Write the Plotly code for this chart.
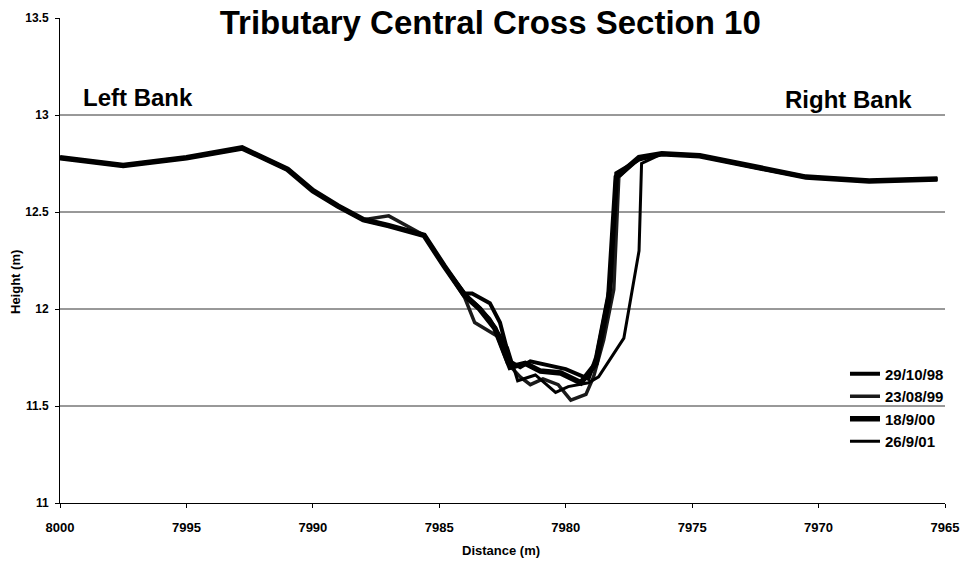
import plotly.graph_objects as go

# ---- data ----
left_x = [8000, 7997.5, 7995, 7992.8, 7991, 7990, 7989, 7988, 7987, 7985.6, 7984.8]
left_y = [12.78, 12.74, 12.78, 12.83, 12.72, 12.61, 12.53, 12.46, 12.43, 12.38, 12.22]
left_y_bump = [12.78, 12.74, 12.78, 12.83, 12.72, 12.61, 12.53, 12.46, 12.48, 12.38, 12.22]

right_x = [7974.7, 7972.5, 7970.5, 7968, 7965.3]
right_y = [12.79, 12.73, 12.68, 12.66, 12.67]

s98_x = [7984.0, 7983.7, 7983.0, 7982.6, 7982.2, 7981.8, 7981.4, 7980.0, 7979.1, 7978.8, 7978.4, 7978.2, 7978.0, 7977.1, 7976.2]
s98_y = [12.08, 12.08, 12.03, 11.93, 11.73, 11.70, 11.73, 11.69, 11.64, 11.75, 12.00, 12.15, 12.70, 12.77, 12.80]

s99_x = [7984.0, 7983.6, 7982.7, 7982.3, 7981.8, 7981.4, 7980.9, 7980.3, 7979.8, 7979.2, 7978.9, 7978.5, 7978.1, 7977.9, 7977.1, 7976.2]
s99_y = [12.06, 11.93, 11.86, 11.72, 11.65, 11.61, 11.64, 11.61, 11.53, 11.56, 11.65, 11.84, 12.10, 12.68, 12.78, 12.80]

s00_x = [7984.0, 7983.4, 7982.8, 7982.2, 7981.6, 7981.0, 7980.2, 7979.4, 7978.8, 7978.3, 7978.0, 7977.1, 7976.2]
s00_y = [12.07, 12.00, 11.90, 11.70, 11.72, 11.68, 11.67, 11.62, 11.72, 12.05, 12.68, 12.78, 12.80]

s01_x = [7984.0, 7983.5, 7983.0, 7982.3, 7981.9, 7981.2, 7980.4, 7979.9, 7979.1, 7978.7, 7977.7, 7977.1, 7977.0, 7976.2]
s01_y = [12.08, 12.02, 11.95, 11.80, 11.63, 11.66, 11.57, 11.60, 11.62, 11.65, 11.85, 12.30, 12.75, 12.80]

series_names = ["29/10/98", "23/08/99", "18/9/00", "26/9/01"]
series_widths = [4, 3.5, 5.5, 3]
series_colors = ["#000000", "#1a1a1a", "#000000", "#000000"]

grid_vals = [11.5, 12, 12.5, 13]
y_ticks = [11, 11.5, 12, 12.5, 13, 13.5]
y_tick_text = ["11", "11.5", "12", "12.5", "13", "13.5"]
x_ticks = [8000, 7995, 7990, 7985, 7980, 7975, 7970, 7965]

FONT = "Liberation Sans, Arial, sans-serif"
W, H = 967, 569
ML, MR, MT, MB = 60, 22, 18, 66
plot_w = W - ML - MR
plot_h = H - MT - MB

fig = go.Figure()

mids = [(s98_x, s98_y, left_y), (s99_x, s99_y, left_y_bump), (s00_x, s00_y, left_y), (s01_x, s01_y, left_y)]
for (mx, my, ly), name, w, c in zip(mids, series_names, series_widths, series_colors):
    fig.add_trace(go.Scatter(
        x=left_x + mx + right_x,
        y=ly + my + right_y,
        mode="lines",
        name=name,
        line=dict(color=c, width=w),
    ))

shapes = [dict(type="line", xref="paper", yref="y", x0=0, x1=1, y0=v, y1=v,
               line=dict(color="#333333", width=1), layer="below") for v in grid_vals]

fig.update_layout(
    width=W, height=H,
    paper_bgcolor="white", plot_bgcolor="white",
    margin=dict(l=ML, r=MR, t=MT, b=MB, autoexpand=False),
    font=dict(family=FONT, color="black"),
    title=dict(text="<b>Tributary Central Cross Section 10</b>",
               x=0.507, xanchor="center", y=0.961, yanchor="middle",
               font=dict(size=33, family=FONT, color="black")),
    shapes=shapes,
    showlegend=True,
    legend=dict(x=0.887, y=0.30, xanchor="left", yanchor="top",
                bgcolor="rgba(0,0,0,0)", font=dict(size=15, family=FONT, weight="bold"),
                itemwidth=30, tracegroupgap=0),
    annotations=[
        dict(text="<b>Left Bank</b>", x=7996.9, y=13.09, xref="x", yref="y",
             showarrow=False, font=dict(size=24, family=FONT, color="black")),
        dict(text="<b>Right Bank</b>", x=7968.8, y=13.08, xref="x", yref="y",
             showarrow=False, font=dict(size=24, family=FONT, color="black")),
        dict(text="<b>Distance (m)</b>", xref="paper", yref="paper",
             x=(501 - ML) / plot_w, y=-(550 - (H - MB)) / plot_h,
             showarrow=False, xanchor="center", yanchor="middle",
             font=dict(size=13, family=FONT, color="black")),
        dict(text="<b>Height (m)</b>", xref="paper", yref="paper",
             x=-(ML - 15) / plot_w, y=((H - MB) - 282) / plot_h, textangle=-90,
             showarrow=False, xanchor="center", yanchor="middle",
             font=dict(size=13, family=FONT, color="black")),
    ],
)

fig.update_xaxes(
    range=[8000, 7965], autorange=False, automargin=False,
    tickvals=x_ticks, ticks="outside", ticklen=4, tickcolor="black",
    ticklabelstandoff=8,
    showline=True, linecolor="black", linewidth=1, showgrid=False, zeroline=False,
    tickfont=dict(size=13, family=FONT, weight="bold"),
)
fig.update_yaxes(
    range=[11, 13.5], autorange=False, automargin=False,
    tickvals=y_ticks, ticktext=y_tick_text, ticks="outside", ticklen=4, tickcolor="black",
    ticklabelstandoff=4,
    showline=True, linecolor="black", linewidth=1, showgrid=False, zeroline=False,
    tickfont=dict(size=12, family=FONT, weight="bold"),
)

fig.write_html("out.html", config={"displayModeBar": False},
               post_script="document.body.style.margin='0px';document.body.style.padding='0px';")
